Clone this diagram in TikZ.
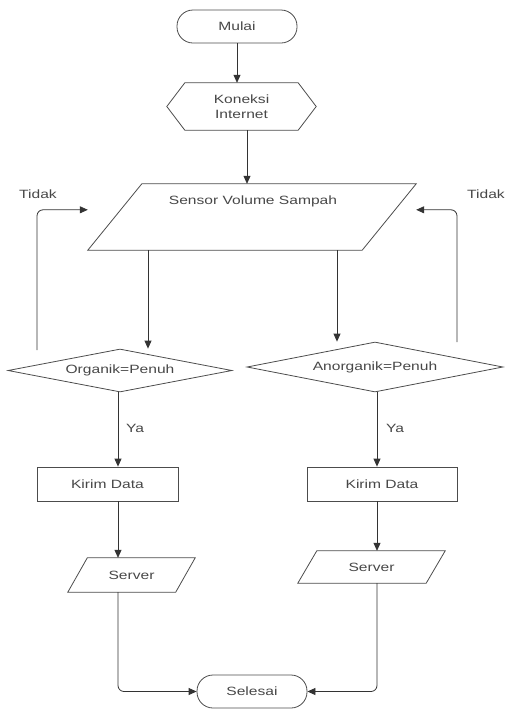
\documentclass[tikz,border=0pt]{standalone}
\usepackage{fontspec}
\setmainfont{Liberation Sans}[FakeStretch=1.3]
\usetikzlibrary{arrows.meta,shapes.geometric}
\begin{document}
\begin{tikzpicture}[x=1pt,y=-1pt,
  font=\fontsize{12}{15}\selectfont,
  every node/.style={text=black!72, inner sep=0pt},
  shp/.style={draw=black!70, line width=0.8pt},
  box/.style={shp, rectangle, minimum height=34pt},
  term/.style={shp, rectangle, rounded corners=16pt, minimum height=33pt},
  ghost/.style={rectangle, draw=none},
  dia/.style={shp, diamond, aspect=5},
  arr/.style={draw=black!80, line width=0.8pt, -{Triangle[length=8pt,width=7pt]}},
  conn/.style={draw=black!80, line width=0.8pt}]
\useasboundingbox (0,0) rectangle (505,710);

% start / end
\node[term, minimum width=120pt] (mulai) at (237,26.5) {Mulai};
\node[term, minimum width=110pt] (selesai) at (252,691.5) {Selesai};

% hexagon
\node[ghost, minimum width=149pt, minimum height=47pt, align=center] (kon) at (241.5,106.5) {Koneksi\\Internet};
\draw[shp] (kon.west) -- ([xshift=18pt]kon.north west) -- ([xshift=-18pt]kon.north east)
  -- (kon.east) -- ([xshift=-18pt]kon.south east) -- ([xshift=18pt]kon.south west) -- cycle;

% sensor parallelogram
\node[ghost, minimum width=328pt, minimum height=66pt] (sensor) at (252,217) {};
\draw[shp] (sensor.south west) -- ([xshift=54pt]sensor.north west) -- (sensor.north east)
  -- ([xshift=-54pt]sensor.south east) -- cycle;
\node (sensortext) at (253,201) {Sensor Volume Sampah};

% diamonds
\node[dia, minimum width=224pt, minimum height=43pt] (ld) at (120,370.5) {Organik=Penuh};
\node[dia, minimum width=256pt, minimum height=50pt] (rd) at (375,367) {Anorganik=Penuh};

% process boxes
\node[box, minimum width=141pt] (kirim1) at (107.5,484) {Kirim Data};
\node[box, minimum width=150pt] (kirim2) at (382,484) {Kirim Data};

% server parallelograms
\node[ghost, minimum width=127pt, minimum height=34pt] (server1) at (131.5,575) {Server};
\draw[shp] (server1.south west) -- ([xshift=19.5pt]server1.north west) -- (server1.north east)
  -- ([xshift=-19.5pt]server1.south east) -- cycle;
\node[ghost, minimum width=147pt, minimum height=32pt] (server2) at (371.5,567) {Server};
\draw[shp] (server2.south west) -- ([xshift=19pt]server2.north west) -- (server2.north east)
  -- ([xshift=-19pt]server2.south east) -- cycle;

% column coordinates
\coordinate (col1) at (118,0);
\coordinate (col2) at (377,0);
\coordinate (sl) at (148,0);
\coordinate (sr) at (337,0);
\coordinate (lstart) at (37,350);
\coordinate (rstart) at (457,342);

% connectors
\draw[arr] (mulai.south) -- (kon.north -| mulai.south);
\draw[arr] ([xshift=5.5pt]kon.south) -- ([xshift=5.5pt]kon.south |- sensor.north);
\draw[arr] (sensor.south -| sl) -- (ld.north -| sl);
\draw[arr] (sensor.south -| sr) -- (rd.north -| sr);

\draw[arr] (ld.south -| col1) -- (kirim1.north -| col1);
\draw[arr] (rd.south -| col2) -- (kirim2.north -| col2);
\node (ya1) at (135,428) {Ya};
\node (ya2) at (395,428) {Ya};

\draw[arr] (kirim1.south -| col1) -- (server1.north -| col1);
\draw[arr] (kirim2.south -| col2) -- (server2.north -| col2);

\draw[arr, rounded corners=6pt] (server1.south -| col1) |- (selesai.west);
\draw[arr, rounded corners=6pt] (server2.south -| col2) |- (selesai.east);

% loops back
\draw[arr, rounded corners=6pt] (lstart) |- ([yshift=-26pt]sensor.north west);
\draw[arr, rounded corners=6pt] (rstart) |- ([yshift=-26pt]sensor.north east);
\node (tidak1) at (38,194) {Tidak};
\node (tidak2) at (486,194) {Tidak};
\end{tikzpicture}
\end{document}
